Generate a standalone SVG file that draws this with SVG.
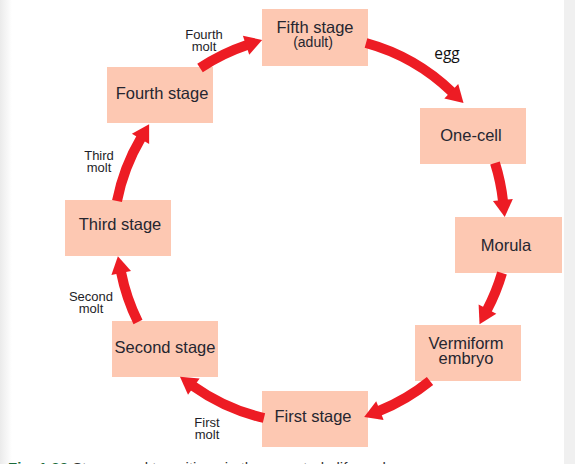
<svg xmlns="http://www.w3.org/2000/svg" width="575" height="464" viewBox="0 0 575 464">
<defs>
<style>
.box{fill:#fdc8b2}
.t{font-family:"Liberation Sans",Arial,sans-serif;font-size:16.5px;fill:#262630;text-anchor:middle}
.s{font-family:"Liberation Sans",Arial,sans-serif;font-size:14px;fill:#262630;text-anchor:middle}
.lbl{font-family:"Liberation Sans",Arial,sans-serif;font-size:13px;fill:#1e1e28;text-anchor:middle}
.arr{fill:none;stroke:#ed1c24;stroke-width:10;marker-end:url(#ah)}
</style>
<marker id="ah" markerUnits="userSpaceOnUse" markerWidth="20" markerHeight="22" viewBox="0 -11 18 22" refX="1" refY="0" orient="auto">
<path d="M0,-10 L17,0 L0,10 z" fill="#ed1c24"/>
</marker>
<linearGradient id="lg" x1="0" y1="0" x2="1" y2="0">
<stop offset="0" stop-color="#ebebeb"/>
<stop offset="1" stop-color="#ffffff"/>
</linearGradient>
</defs>
<rect x="0" y="0" width="575" height="464" fill="#ffffff"/>
<rect x="0" y="0" width="12" height="464" fill="url(#lg)"/>
<rect x="564" y="0" width="11" height="464" fill="#f0f0f0"/>

<g id="fifth"><rect class="box" x="262" y="9" width="106" height="57"/><text class="t" x="315" y="33">Fifth stage</text><text class="s" x="313" y="47">(adult)</text></g>
<g id="onecell"><rect class="box" x="420" y="108" width="106" height="56"/><text class="t" x="471" y="141">One-cell</text></g>
<g id="morula"><rect class="box" x="455" y="217" width="107" height="56"/><text class="t" x="506" y="251">Morula</text></g>
<g id="vermiform"><rect class="box" x="415" y="325" width="106" height="56"/><text class="t" x="466" y="349">Vermiform</text><text class="t" x="466" y="364">embryo</text></g>
<g id="first"><rect class="box" x="262" y="391" width="106" height="56"/><text class="t" x="313" y="422">First stage</text></g>
<g id="second"><rect class="box" x="112" y="321" width="106" height="56"/><text class="t" x="165" y="353">Second stage</text></g>
<g id="third"><rect class="box" x="65" y="200" width="106" height="56"/><text class="t" x="120" y="230">Third stage</text></g>
<g id="fourth"><rect class="box" x="107" y="67" width="106" height="56"/><text class="t" x="162" y="99">Fourth stage</text></g>

<g id="connectors">
<path class="arr" d="M366,43 A200,200 0 0 1 452,92"/>
<path class="arr" d="M495,163 A200,200 0 0 1 503,201"/>
<path class="arr" d="M502,273 A200,200 0 0 1 487,310"/>
<path class="arr" d="M430,381 A200,200 0 0 1 379,411"/>
<path class="arr" d="M264,418 A200,200 0 0 1 193,386"/>
<path class="arr" d="M138,322 A200,200 0 0 1 121,272"/>
<path class="arr" d="M117,201 A200,200 0 0 1 141,138"/>
<path class="arr" d="M200,68 A200,200 0 0 1 247,45"/>
</g>

<g id="labels">
<text x="447" y="59" style="font-family:'Open Sans','DejaVu Sans',sans-serif;font-size:15.5px;fill:#111;text-anchor:middle">egg</text>
<text class="lbl" x="204" y="38.5">Fourth</text><text class="lbl" x="204" y="50.5">molt</text>
<text class="lbl" x="99" y="160">Third</text><text class="lbl" x="99" y="172">molt</text>
<text class="lbl" x="91" y="300.5">Second</text><text class="lbl" x="91" y="312.5">molt</text>
<text class="lbl" x="207" y="426.5">First</text><text class="lbl" x="207" y="438.5">molt</text>
</g>

<text x="8" y="473" style="font-family:'Liberation Sans',Arial,sans-serif;font-size:15px;fill:#333"><tspan style="fill:#1a6b3a;font-weight:bold">Fig. 1.22</tspan> Stages and transitions in the nematode life cycle</text>
</svg>
